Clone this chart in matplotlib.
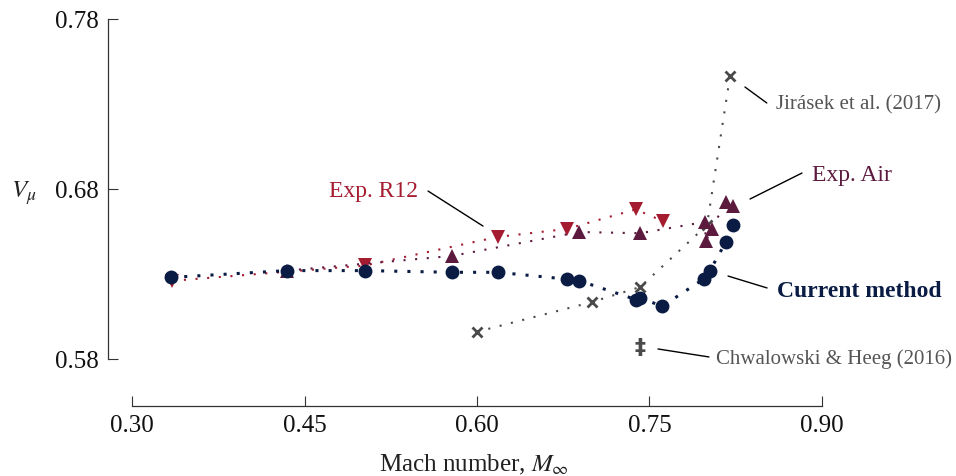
import matplotlib
matplotlib.use("Agg")
import matplotlib.pyplot as plt

plt.rcParams['font.family'] = ['Liberation Serif', 'DejaVu Serif']
plt.rcParams['mathtext.fontset'] = 'stix'

# Data
current_x = [0.334, 0.435, 0.5026, 0.578, 0.618, 0.678, 0.689, 0.738, 0.742, 0.761, 0.797, 0.8026, 0.8165, 0.8226]
current_y = [0.628, 0.632, 0.632, 0.631, 0.631, 0.627, 0.626, 0.615, 0.616, 0.611, 0.627, 0.632, 0.649, 0.659]

r12_x = [0.335, 0.5026, 0.618, 0.678, 0.738, 0.762]
r12_y = [0.626, 0.635, 0.6518, 0.6565, 0.668, 0.661]

air_x = [0.435, 0.578, 0.689, 0.742, 0.798, 0.7991, 0.804, 0.8165, 0.8226]
air_y = [0.632, 0.6406, 0.6547, 0.654, 0.6606, 0.6494, 0.6565, 0.6724, 0.670]

jir_x = [0.600, 0.700, 0.742, 0.800, 0.820]
jir_y = [0.596, 0.6135, 0.6224, 0.6588, 0.7465]

chw_x = [0.742]
chw_y = [0.587]

xticks = [0.30, 0.45, 0.60, 0.75, 0.90]
yticks = [0.58, 0.68, 0.78]

NAVY = '#0a1c44'
RED = '#a51c30'
PURPLE = '#5c1a3e'
GRAY = '#4a4a4a'
TXTGRAY = '#555555'

fig = plt.figure(figsize=(9.56, 4.77), dpi=100)
ax = fig.add_axes([132/956, 1-360/477, 690/956, 340/477])
ax.set_xlim(0.30, 0.90)
ax.set_ylim(0.58, 0.78)

ax.plot(jir_x, jir_y, color=GRAY, lw=1.5, ls=(0, (1, 4.6)), marker='x', ms=7.5, mew=2,
        clip_on=False, zorder=2)
ax.plot(r12_x, r12_y, color=RED, lw=1.5, ls=(0, (1, 4.6)), marker='v', ms=10, mew=0,
        clip_on=False, zorder=3)
ax.plot(air_x, air_y, color=PURPLE, lw=1.5, ls=(0, (1, 4.6)), marker='^', ms=10, mew=0,
        clip_on=False, zorder=3)
ax.plot(current_x, current_y, color=NAVY, lw=2.2, ls=(0, (1, 3.3)), marker='o', ms=10, mew=0,
        clip_on=False, zorder=4)
for cx, cy in zip(chw_x, chw_y):
    ax.text(cx, cy, '\u2021', color=GRAY, fontsize=16, fontweight='bold',
            family=['DejaVu Sans'], ha='center', va='center', zorder=3)

# Annotations
def leader(x0, y0, x1, y1):
    ax.annotate('', xy=(x0, y0), xytext=(x1, y1), annotation_clip=False,
                arrowprops=dict(arrowstyle='-', color='black', lw=1.0, shrinkA=0, shrinkB=0))

leader(0.833, 0.740, 0.852, 0.7306)
ax.text(0.860, 0.7271, 'Jirásek et al. (2017)', fontsize=15, color=TXTGRAY, ha='left', va='baseline')

leader(0.8374, 0.6741, 0.8826, 0.6894)
ax.text(0.8913, 0.6853, 'Exp. Air', fontsize=17, color=PURPLE, ha='left', va='baseline')

leader(0.5574, 0.6788, 0.6052, 0.6582)
ax.text(0.5487, 0.6757, 'Exp. R12', fontsize=17, color=RED, ha='right', va='baseline')

leader(0.8183, 0.6288, 0.8522, 0.6218)
ax.text(0.8609, 0.6170, 'Current method', fontsize=17, color=NAVY, fontweight='bold',
        ha='left', va='baseline')

leader(0.7574, 0.5859, 0.8017, 0.5812)
ax.text(0.8078, 0.5776, 'Chwalowski & Heeg (2016)', fontsize=15, color=TXTGRAY, ha='left', va='baseline')

# Axes styling
for s in ['top', 'right']:
    ax.spines[s].set_visible(False)
ax.spines['left'].set_position(('outward', 24*0.72))
ax.spines['bottom'].set_position(('outward', 47*0.72))
ax.spines['left'].set_bounds(0.58, 0.78)
ax.spines['bottom'].set_bounds(0.30, 0.90)
for s in ['left', 'bottom']:
    ax.spines[s].set_color('#333333')
    ax.spines[s].set_linewidth(0.9)

ax.set_xticks(xticks)
ax.set_xticklabels([f'{t:.2f}' for t in xticks])
ax.set_yticks(yticks)
ax.set_yticklabels([f'{t:.2f}' for t in yticks])
ax.tick_params(direction='in', length=7, width=0.8, color='#333333', labelsize=18,
               labelcolor='#111111')
ax.tick_params(axis='y', pad=7)
ax.tick_params(axis='x', pad=6)

ax.set_xlabel('Mach number, $M_\\infty$', fontsize=18, color='#222222')
ax.xaxis.set_label_coords(0.4957, -0.31)
ax.xaxis.label.set_va('center')
ax.set_ylabel('$V_\\mu$', fontsize=18, rotation=0, color='#222222')
ax.yaxis.set_label_coords(-0.1565, 0.49)
ax.yaxis.label.set_va('center')
ax.yaxis.label.set_ha('center')

fig.savefig('out.png', dpi=100)
